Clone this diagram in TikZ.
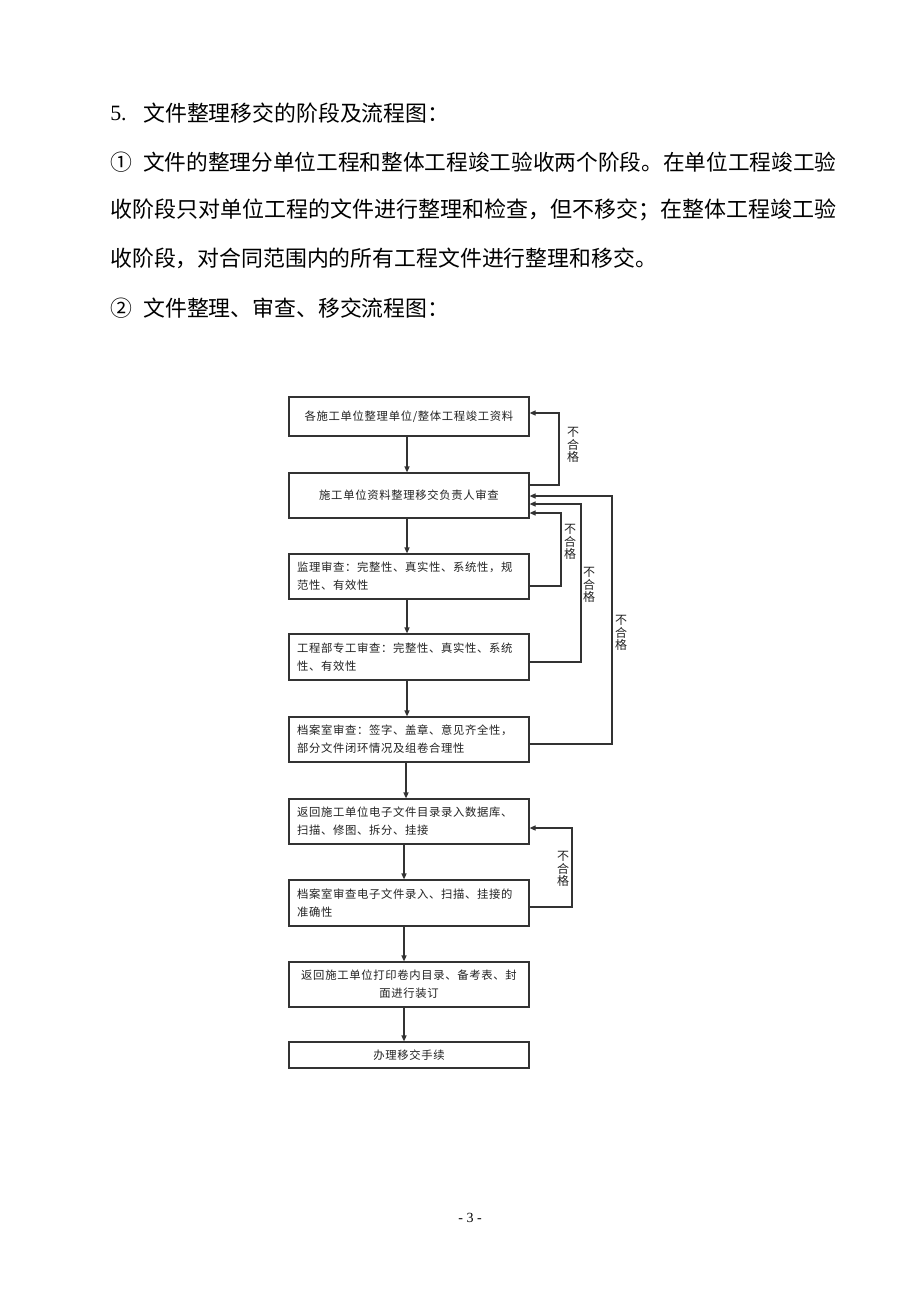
\documentclass[tikz,border=0pt]{standalone}
\usepackage{fontspec}
\usetikzlibrary{arrows.meta}
\newfontfamily\cjk{Noto Sans CJK SC}
\newfontfamily\cjkbox[LetterSpace=6]{Noto Sans CJK SC}
\setmainfont{Liberation Serif}
\definecolor{linec}{HTML}{333333}
\definecolor{boxtext}{HTML}{222222}
\tikzset{
  bodytext/.style={anchor=west, inner sep=0pt, text=black},
  flowbox/.style={draw=linec, line width=0.9pt, fill=white, minimum width=180pt, text width=168pt,
     inner xsep=6pt, inner ysep=2pt, text=boxtext, font=\cjkbox\fontsize{8.5}{13.5}\selectfont},
  leftbox/.style={flowbox, align=left},
  midbox/.style={flowbox, align=center},
  arr/.style={draw=linec, line width=0.9pt, -{Triangle[length=4.5pt,width=3.8pt]}},
  fb/.style={arr},
  nglabel/.style={inner sep=0pt, align=center, text=boxtext, font=\cjk\fontsize{9}{9.6}\selectfont}
}
\begin{document}
\begin{tikzpicture}[x=0.75pt, y=-0.75pt]
\useasboundingbox[fill=white] (0,0) rectangle (920,1302);

% body text
\node[bodytext, font=\fontsize{16.4}{18}\selectfont] (n5) at (110,113) {5.};
\node[bodytext, font=\cjk\fontsize{16.4}{18}\selectfont] (t1) at (143,113) {文件整理移交的阶段及流程图：};
\node[bodytext, font=\cjk\fontsize{16.4}{18}\selectfont] (c1) at (110,162) {①};
\node[bodytext, font=\cjk\fontsize{16.25}{18}\selectfont] (t2) at (143,162) {文件的整理分单位工程和整体工程竣工验收两个阶段。在单位工程竣工验};
\node[bodytext, font=\cjk\fontsize{16.5}{18}\selectfont] (t3) at (110,210) {收阶段只对单位工程的文件进行整理和检查，但不移交；在整体工程竣工验};
\node[bodytext, font=\cjk\fontsize{16.4}{18}\selectfont] (t4) at (110,258) {收阶段，对合同范围内的所有工程文件进行整理和移交。};
\node[bodytext, font=\cjk\fontsize{16.4}{18}\selectfont] (c2) at (110,308) {②};
\node[bodytext, font=\cjk\fontsize{16.4}{18}\selectfont] (t5) at (143,308) {文件整理、审查、移交流程图：};

% boxes
\node[midbox, minimum height=29.25pt] (b1) at (409,416.5) {各施工单位整理单位/整体工程竣工资料};
\node[midbox, minimum height=33.75pt] (b2) at (409,495.5) {施工单位资料整理移交负责人审查};
\node[leftbox, minimum height=33.75pt] (b3) at (409,576.5) {监理审查：完整性、真实性、系统性，规\\范性、有效性};
\node[leftbox, minimum height=34.5pt] (b4) at (409,657) {工程部专工审查：完整性、真实性、系统\\性、有效性};
\node[leftbox, minimum height=33.75pt] (b5) at (409,739.5) {档案室审查：签字、盖章、意见齐全性，\\部分文件闭环情况及组卷合理性};
\node[leftbox, minimum height=33.75pt] (b6) at (409,821.5) {返回施工单位电子文件目录录入数据库、\\扫描、修图、拆分、挂接};
\node[leftbox, minimum height=34.5pt] (b7) at (409,903) {档案室审查电子文件录入、扫描、挂接的\\准确性};
\node[midbox, minimum height=33.75pt] (b8) at (409,984.5) {返回施工单位打印卷内目录、备考表、封\\面进行装订};
\node[midbox, minimum height=19.5pt] (b9) at (409,1055) {办理移交手续};

% main arrows
\draw[arr] (b1.south -| 407,0) -- (b2.north -| 407,0);
\draw[arr] (b2.south -| 407,0) -- (b3.north -| 407,0);
\draw[arr] (b3.south -| 407,0) -- (b4.north -| 407,0);
\draw[arr] (b4.south -| 407,0) -- (b5.north -| 407,0);
\draw[arr] (b5.south -| 406,0) -- (b6.north -| 406,0);
\draw[arr] (b6.south -| 404,0) -- (b7.north -| 404,0);
\draw[arr] (b7.south -| 404,0) -- (b8.north -| 404,0);
\draw[arr] (b8.south -| 404,0) -- (b9.north -| 404,0);

% feedback loops
\draw[fb] (b2.east |- 0,485) -- (559,485) |- (b1.east |- 0,413);
\draw[fb] (b3.east |- 0,586) -- (561,586) |- (b2.east |- 0,513);
\draw[fb] (b4.east |- 0,662) -- (581,662) |- (b2.east |- 0,504);
\draw[fb] (b5.east |- 0,744) -- (612,744) |- (b2.east |- 0,496);
\draw[fb] (b7.east |- 0,907) -- (572,907) |- (b6.east |- 0,828);

% labels
\node[nglabel] (g1) at (573,445) {不\\合\\格};
\node[nglabel] (g2) at (570,542) {不\\合\\格};
\node[nglabel] (g3) at (589,585) {不\\合\\格};
\node[nglabel] (g4) at (621,633) {不\\合\\格};
\node[nglabel] (g5) at (563,869) {不\\合\\格};

% page number
\node[inner sep=0pt, font=\fontsize{10.5}{12}\selectfont] (pg) at (470,1218) {- 3 -};
\end{tikzpicture}
\end{document}
